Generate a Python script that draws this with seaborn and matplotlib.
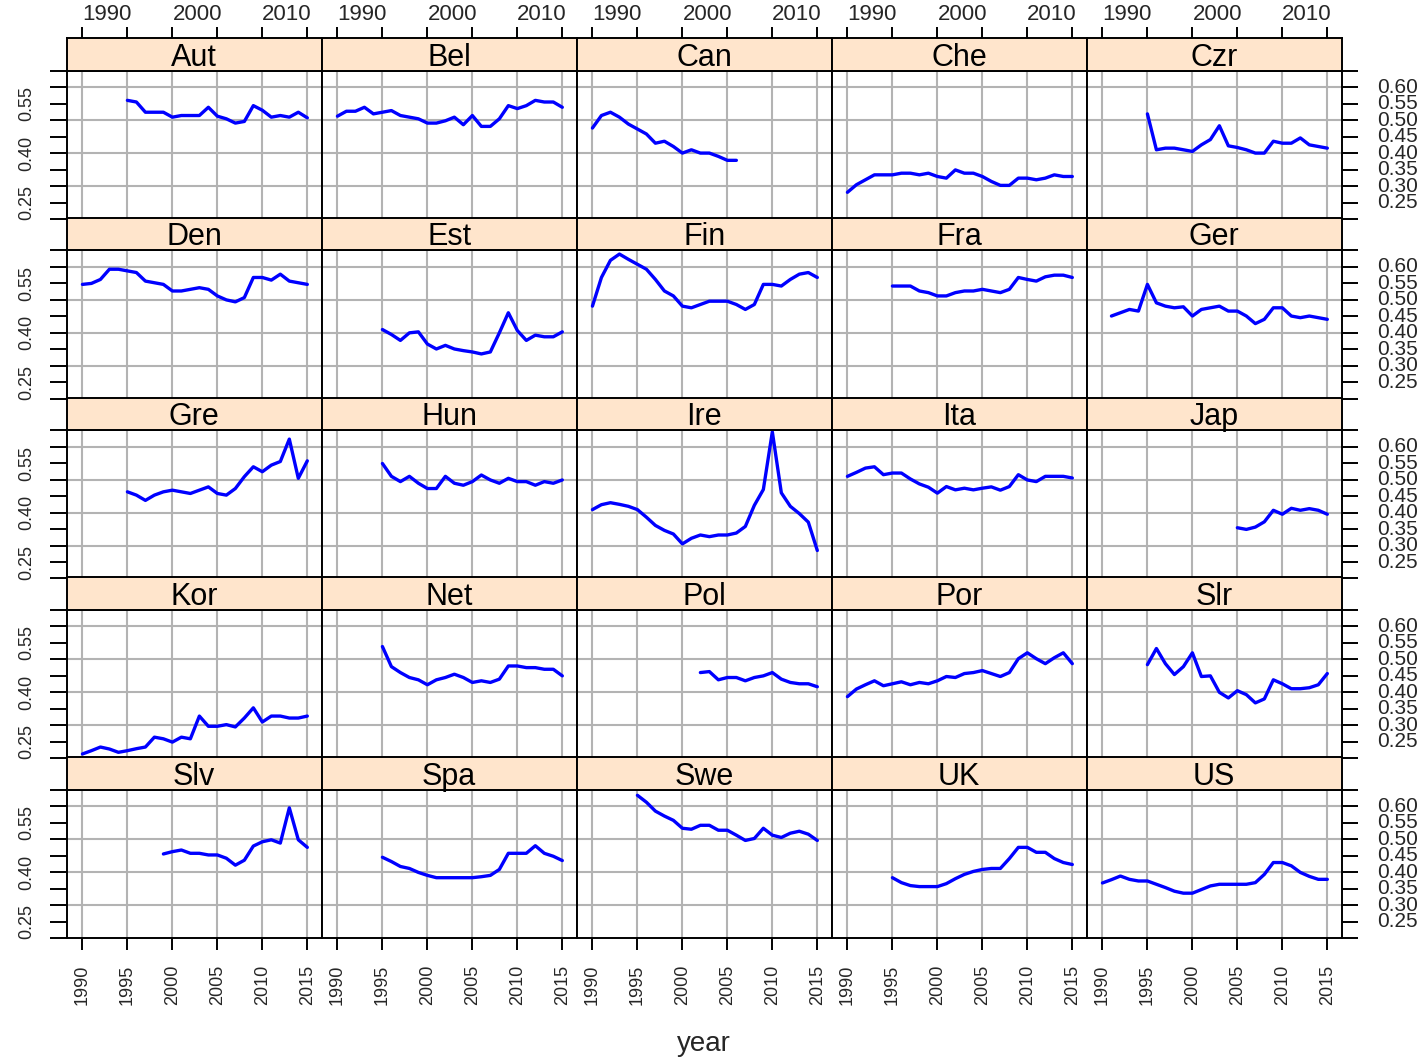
import matplotlib
matplotlib.use("Agg")
import matplotlib.pyplot as plt
import seaborn as sns
import pandas as pd
import numpy as np

sns.set_theme(style="white")
plt.rcParams['font.family'] = ['Liberation Sans', 'DejaVu Sans']

# ---------------- data ----------------
countries = ['Aut', 'Bel', 'Can', 'Che', 'Czr', 'Den', 'Est', 'Fin', 'Fra', 'Ger',
             'Gre', 'Hun', 'Ire', 'Ita', 'Jap', 'Kor', 'Net', 'Pol', 'Por', 'Slr',
             'Slv', 'Spa', 'Swe', 'UK', 'US']
start_year = {'Aut': 1995, 'Bel': 1990, 'Can': 1990, 'Che': 1990, 'Czr': 1995,
              'Den': 1990, 'Est': 1995, 'Fin': 1990, 'Fra': 1995, 'Ger': 1991,
              'Gre': 1995, 'Hun': 1995, 'Ire': 1990, 'Ita': 1990, 'Jap': 2005,
              'Kor': 1990, 'Net': 1995, 'Pol': 2002, 'Por': 1990, 'Slr': 1995,
              'Slv': 1999, 'Spa': 1995, 'Swe': 1995, 'UK': 1995, 'US': 1990}

aut = [0.560, 0.555, 0.524, 0.524, 0.524, 0.509, 0.514, 0.514, 0.514, 0.539, 0.512,
       0.504, 0.491, 0.496, 0.544, 0.530, 0.509, 0.514, 0.509, 0.524, 0.507]
bel = [0.512, 0.527, 0.527, 0.539, 0.519, 0.524, 0.529, 0.514, 0.509, 0.504, 0.491,
       0.491, 0.498, 0.509, 0.486, 0.514, 0.481, 0.481, 0.504, 0.544, 0.535, 0.544,
       0.560, 0.555, 0.555, 0.539]
can = [0.476, 0.514, 0.524, 0.509, 0.488, 0.473, 0.458, 0.430, 0.436, 0.420, 0.400,
       0.410, 0.400, 0.400, 0.390, 0.378, 0.378]
che = [0.281, 0.304, 0.319, 0.334, 0.334, 0.334, 0.339, 0.339, 0.334, 0.339, 0.329,
       0.324, 0.349, 0.339, 0.339, 0.329, 0.314, 0.302, 0.302, 0.324, 0.324, 0.319,
       0.324, 0.334, 0.329, 0.329]
czr = [0.519, 0.410, 0.415, 0.415, 0.410, 0.405, 0.425, 0.441, 0.483, 0.422, 0.417,
       0.410, 0.400, 0.400, 0.436, 0.430, 0.430, 0.446, 0.425, 0.420, 0.415]
den = [0.547, 0.550, 0.562, 0.593, 0.593, 0.588, 0.583, 0.557, 0.552, 0.547, 0.527,
       0.527, 0.532, 0.537, 0.532, 0.512, 0.500, 0.494, 0.507, 0.568, 0.568, 0.560,
       0.578, 0.557, 0.552, 0.547]
est = [0.410, 0.395, 0.377, 0.400, 0.403, 0.366, 0.351, 0.362, 0.351, 0.346, 0.342,
       0.336, 0.342, 0.400, 0.461, 0.407, 0.377, 0.393, 0.388, 0.388, 0.403]
fin = [0.481, 0.568, 0.620, 0.639, 0.623, 0.608, 0.593, 0.562, 0.527, 0.512, 0.481,
       0.476, 0.486, 0.496, 0.496, 0.496, 0.486, 0.471, 0.486, 0.547, 0.547, 0.542,
       0.562, 0.578, 0.583, 0.568]
fra = [0.542, 0.542, 0.542, 0.527, 0.522, 0.512, 0.512, 0.522, 0.527, 0.527, 0.532,
       0.527, 0.522, 0.532, 0.568, 0.562, 0.557, 0.570, 0.575, 0.575, 0.568]
ger = [0.451, 0.461, 0.471, 0.466, 0.547, 0.491, 0.481, 0.476, 0.479, 0.451, 0.471,
       0.476, 0.481, 0.466, 0.466, 0.451, 0.428, 0.441, 0.476, 0.476, 0.451, 0.446,
       0.451, 0.446, 0.441]
gre = [0.463, 0.453, 0.437, 0.453, 0.463, 0.468, 0.463, 0.458, 0.468, 0.478, 0.458,
       0.453, 0.473, 0.509, 0.539, 0.524, 0.544, 0.555, 0.623, 0.504, 0.557]
hun = [0.549, 0.510, 0.494, 0.510, 0.489, 0.473, 0.473, 0.510, 0.489, 0.483, 0.494,
       0.514, 0.499, 0.489, 0.504, 0.494, 0.494, 0.483, 0.494, 0.489, 0.499]
ire = [0.409, 0.424, 0.430, 0.425, 0.419, 0.409, 0.386, 0.361, 0.346, 0.335, 0.305,
       0.322, 0.332, 0.327, 0.332, 0.332, 0.338, 0.358, 0.422, 0.470, 0.645, 0.460,
       0.419, 0.397, 0.371, 0.285]
ita = [0.510, 0.522, 0.535, 0.539, 0.515, 0.520, 0.520, 0.502, 0.487, 0.477, 0.459,
       0.479, 0.469, 0.474, 0.469, 0.474, 0.478, 0.468, 0.479, 0.515, 0.499, 0.494,
       0.510, 0.510, 0.510, 0.505]
jap = [0.354, 0.349, 0.356, 0.372, 0.407, 0.395, 0.413, 0.407, 0.412, 0.407, 0.395]
kor = [0.213, 0.223, 0.234, 0.228, 0.218, 0.223, 0.229, 0.234, 0.264, 0.259, 0.249,
       0.264, 0.259, 0.328, 0.297, 0.297, 0.302, 0.295, 0.322, 0.353, 0.310, 0.328,
       0.328, 0.322, 0.322, 0.328]
net = [0.539, 0.478, 0.460, 0.445, 0.438, 0.423, 0.438, 0.445, 0.455, 0.445, 0.430,
       0.435, 0.430, 0.440, 0.480, 0.480, 0.475, 0.475, 0.470, 0.470, 0.450]
pol = [0.460, 0.463, 0.438, 0.445, 0.445, 0.435, 0.445, 0.450, 0.460, 0.440, 0.430,
       0.426, 0.426, 0.417]
por = [0.387, 0.410, 0.423, 0.435, 0.420, 0.426, 0.432, 0.423, 0.430, 0.426, 0.435,
       0.448, 0.445, 0.457, 0.460, 0.466, 0.457, 0.448, 0.460, 0.502, 0.520, 0.502,
       0.487, 0.505, 0.520, 0.487]
slr = [0.484, 0.533, 0.487, 0.454, 0.478, 0.520, 0.448, 0.450, 0.400, 0.383, 0.405,
       0.393, 0.368, 0.380, 0.438, 0.426, 0.411, 0.411, 0.414, 0.423, 0.457]
slv = [0.455, 0.462, 0.467, 0.457, 0.457, 0.452, 0.452, 0.442, 0.421, 0.436, 0.479,
       0.492, 0.498, 0.488, 0.595, 0.498, 0.475]
spa = [0.445, 0.432, 0.417, 0.411, 0.399, 0.390, 0.383, 0.383, 0.383, 0.383, 0.383,
       0.386, 0.390, 0.408, 0.457, 0.457, 0.457, 0.480, 0.457, 0.448, 0.435]
swe = [0.633, 0.612, 0.585, 0.570, 0.557, 0.533, 0.530, 0.542, 0.542, 0.527, 0.527,
       0.512, 0.496, 0.502, 0.533, 0.512, 0.505, 0.518, 0.524, 0.515, 0.496]
uk = [0.383, 0.368, 0.359, 0.356, 0.356, 0.356, 0.365, 0.380, 0.393, 0.402, 0.408,
      0.411, 0.411, 0.441, 0.475, 0.475, 0.460, 0.460, 0.441, 0.429, 0.423]
us = [0.367, 0.377, 0.388, 0.378, 0.373, 0.373, 0.363, 0.353, 0.342, 0.336, 0.336,
      0.347, 0.358, 0.363, 0.363, 0.363, 0.363, 0.368, 0.393, 0.429, 0.429, 0.419,
      0.399, 0.387, 0.378, 0.378]

series = {'Aut': aut, 'Bel': bel, 'Can': can, 'Che': che, 'Czr': czr, 'Den': den,
          'Est': est, 'Fin': fin, 'Fra': fra, 'Ger': ger, 'Gre': gre, 'Hun': hun,
          'Ire': ire, 'Ita': ita, 'Jap': jap, 'Kor': kor, 'Net': net, 'Pol': pol,
          'Por': por, 'Slr': slr, 'Slv': slv, 'Spa': spa, 'Swe': swe, 'UK': uk,
          'US': us}

x_ticks = [1990, 1995, 2000, 2005, 2010, 2015]
top_labels = ['1990', '', '2000', '', '2010', '']
y_ticks = [0.20, 0.25, 0.30, 0.35, 0.40, 0.45, 0.50, 0.55, 0.60, 0.65]
left_labels = ['', '0.25', '', '', '0.40', '', '', '0.55', '', '']
right_labels = ['', '0.25', '0.30', '0.35', '0.40', '0.45', '0.50', '0.55', '0.60', '']
y_grid = [0.30, 0.40, 0.50, 0.60]

rows = []
for c in countries:
    for i, v in enumerate(series[c]):
        rows.append({'country': c, 'year': start_year[c] + i, 'value': v})
df = pd.DataFrame(rows)

# ---------------- layout ----------------
W, H = 1428, 1058
fig = plt.figure(figsize=(W / 100, H / 100), dpi=100)

x0, pw = 66.7, 255.0
ph, sh = 148.3, 32.7
row_step = 179.75
bottom0 = 219.0
XLIM = (1988.25, 2016.6)
YLIM = (0.20, 0.65)
strip_col = '#FFE5CC'
grid_col = '#b3b3b3'
edge_lw = 1.4

for idx, c in enumerate(countries):
    r, col = divmod(idx, 5)
    ybot = bottom0 + row_step * r
    ytop = ybot - ph
    ax = fig.add_axes([(x0 + pw * col) / W, 1 - ybot / H, pw / W, ph / H])
    sax = fig.add_axes([(x0 + pw * col) / W, 1 - ytop / H, pw / W, sh / H])

    sub = df[df['country'] == c]
    sns.lineplot(data=sub, x='year', y='value', ax=ax, color='#0000FF',
                 linewidth=2.4, zorder=3)
    ax.set_xlim(XLIM)
    ax.set_ylim(YLIM)
    ax.set_xlabel('')
    ax.set_ylabel('')
    ax.set_xticks(x_ticks)
    ax.set_yticks(y_ticks)
    ax.grid(False)
    ax.grid(True, axis='x', which='major', color=grid_col, lw=1.5, zorder=0)
    for gy in y_grid:
        ax.axhline(gy, color=grid_col, lw=1.5, zorder=0)
    ax.set_axisbelow(True)
    for s in ax.spines.values():
        s.set_color('black')
        s.set_linewidth(edge_lw)
        s.set_visible(True)
        s.set_zorder(5)
    ax.tick_params(axis='both', which='major', left=False, right=False, bottom=False,
                   top=False, labelleft=False, labelright=False, labelbottom=False,
                   labeltop=False, width=edge_lw, color='black', direction='out')

    if col == 0:
        ax.tick_params(axis='y', which='major', left=True, labelleft=True, length=12,
                       pad=11, labelsize=13, labelrotation=90)
        ax.set_yticks(y_ticks, left_labels)
        for t in ax.get_yticklabels():
            t.set_va('center')
    if col == 4:
        ax.tick_params(axis='y', which='major', right=True, labelright=True,
                       length=11.3, pad=14, labelsize=15)
        ax.set_yticks(y_ticks, right_labels)
        for t in ax.get_yticklabels():
            t.set_va('center')
    if r == 4:
        ax.tick_params(axis='x', which='major', bottom=True, labelbottom=True,
                       length=8.4, pad=11, labelsize=13, labelrotation=90)
        ax.set_xticks(x_ticks, [str(v) for v in x_ticks])

    # strip
    sax.set_facecolor(strip_col)
    sax.set_xlim(XLIM)
    sax.set_ylim(0, 1)
    sax.set_yticks([])
    for s in sax.spines.values():
        s.set_color('black')
        s.set_linewidth(edge_lw)
        s.set_visible(True)
    sax.text(0.5, 0.40, c, transform=sax.transAxes, ha='center', va='center',
             fontsize=22, color='black')
    if r == 0:
        sax.set_xticks(x_ticks, top_labels)
        sax.tick_params(axis='x', bottom=False, labelbottom=False, top=True,
                        labeltop=True, length=8, width=edge_lw, pad=1.5,
                        labelsize=16, direction='out', color='black')
        for t in sax.get_xticklabels():
            t.set_ha('left')
    else:
        sax.set_xticks([])

fig.text(0.493, 1 - 1044 / H, 'year', ha='center', va='center', fontsize=20)

fig.savefig('out.png', dpi=100, facecolor='white')
